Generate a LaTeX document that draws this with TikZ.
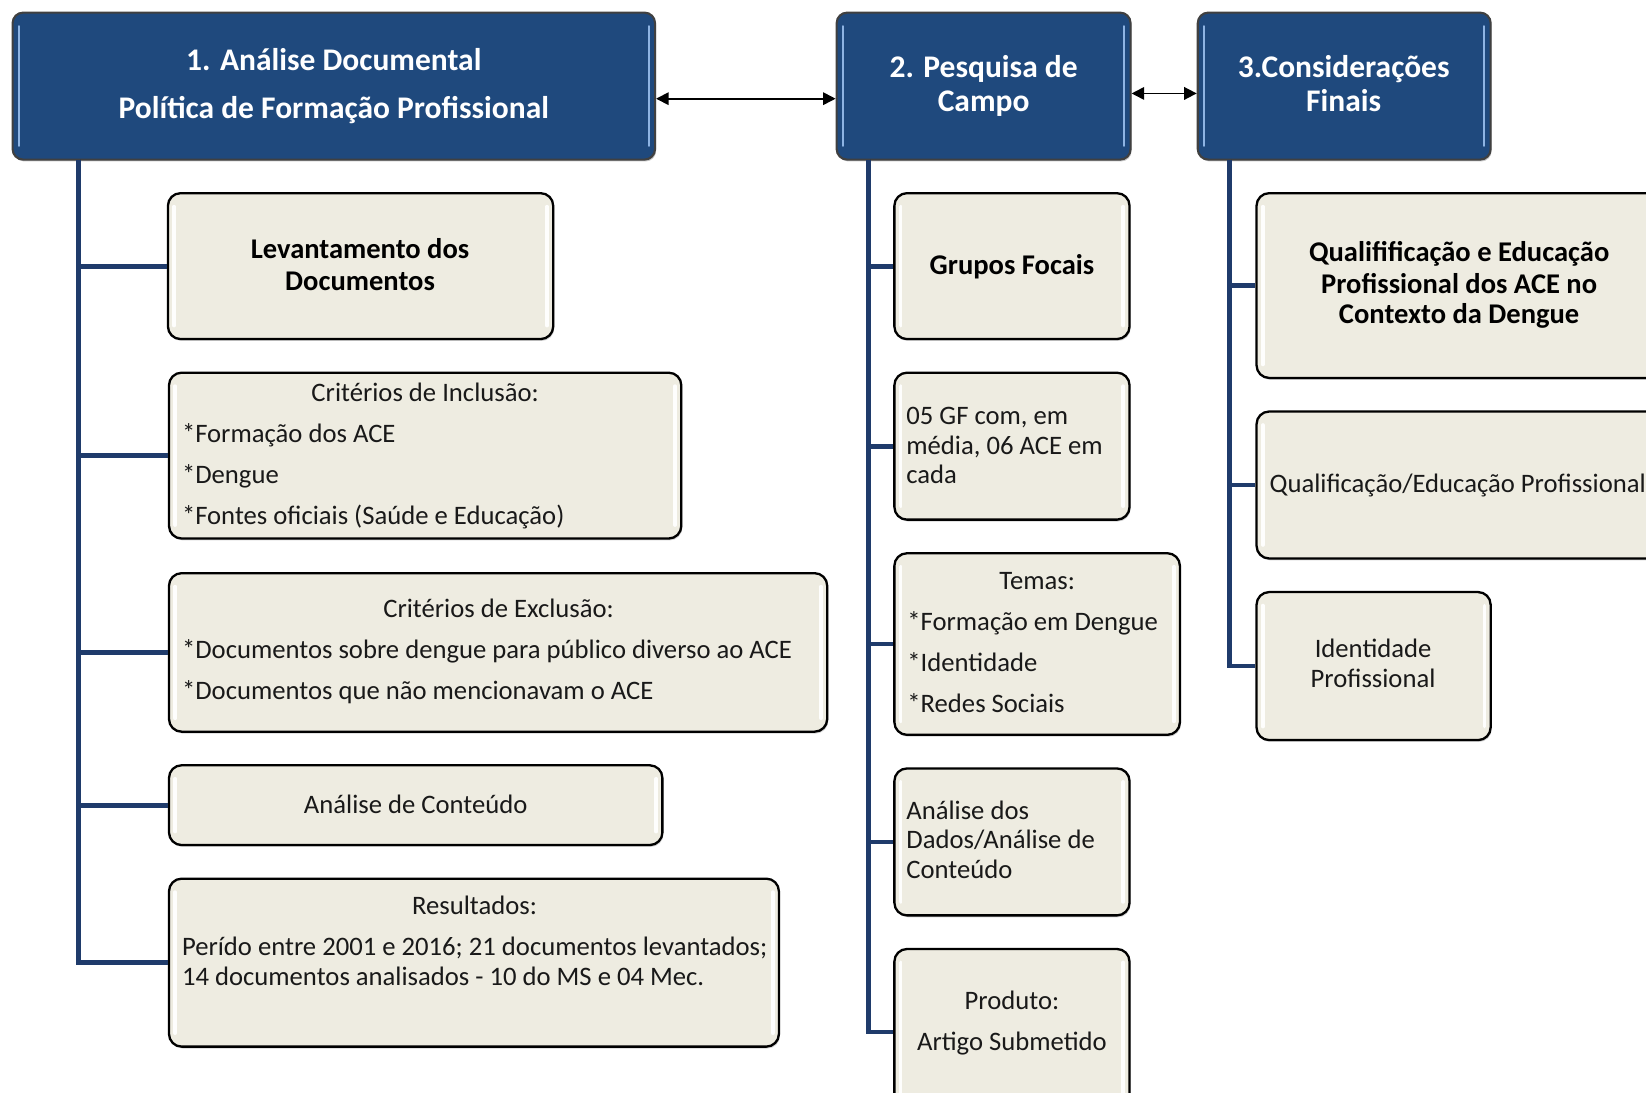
\documentclass[tikz,border=0pt]{standalone}
\usepackage{fontspec}
\setmainfont{Carlito}
\usetikzlibrary{shadows,arrows.meta}
\definecolor{hdr}{HTML}{1F497D}
\definecolor{hdrline}{HTML}{8EB4E3}
\definecolor{tanbg}{HTML}{EEECE1}
\definecolor{spinec}{HTML}{1F3B6B}
\newcommand\bx[6]{\node[#1, minimum width={(#5-#3)*0.5pt}, minimum height={(#6-#4)*0.5pt}] (#2) at ({(#3+#5)/2},{(#4+#6)/2}) {};}
\newcommand\hlx[2]{%
  \draw[#1] ([xshift=3.5pt,yshift=-7pt]#2.north west) -- ([xshift=3.5pt,yshift=7pt]#2.south west);
  \draw[#1] ([xshift=-3.5pt,yshift=-7pt]#2.north east) -- ([xshift=-3.5pt,yshift=7pt]#2.south east);}
\begin{document}
\begin{tikzpicture}[x=0.5pt,y=-0.5pt,
  hbox/.style={draw=black!75, line width=1pt, fill=hdr, rounded corners=5pt,
    drop shadow={shadow xshift=0.5pt, shadow yshift=-0.9pt, opacity=0.45}},
  tbox/.style={draw=black, line width=1.1pt, fill=tanbg, rounded corners=6pt,
    drop shadow={shadow xshift=0.5pt, shadow yshift=-0.9pt, opacity=0.35}},
  hhl/.style={draw=hdrline, line width=1pt, line cap=round},
  thl/.style={draw=white, line width=1.8pt, line cap=round, opacity=0.95},
  spine/.style={draw=spinec, line width=2.3pt},
  arr/.style={draw=black, line width=0.8pt, {Triangle[length=6pt,width=6pt]}-{Triangle[length=6pt,width=6pt]}},
  ht/.style={font=\bfseries\fontsize{15}{16}\selectfont, text=white, inner sep=0pt, anchor=base, yshift=-4.6pt},
  bt/.style={font=\bfseries\fontsize{13.6}{15}\selectfont, text=black, inner sep=0pt, anchor=base, yshift=-4.2pt},
  rt/.style={font=\fontsize{12.7}{14}\selectfont, text=black!90, inner sep=0pt, anchor=base, yshift=-3.8pt},
  rtl/.style={rt, anchor=base west},
]
\useasboundingbox (0,0) rectangle (1568,1041);

% headers
\bx{hbox}{h1}{12}{12}{624}{152}
\bx{hbox}{h2}{797}{12}{1077}{152}
\bx{hbox}{h3}{1141}{12}{1420}{152}
\hlx{hhl}{h1}\hlx{hhl}{h2}\hlx{hhl}{h3}
\node[ht] (h1a) at (318,58) {1. Análise Documental};
\node[ht] (h1b) at (318,104) {Política de Formação Profissional};
\node[ht] (h2a) at (937,65) {2. Pesquisa de};
\node[ht] (h2b) at (937,97) {Campo};
\node[ht] (h3a) at (1280,65) {3.Considerações};
\node[ht] (h3b) at (1280,97) {Finais};

\draw[arr] ([yshift=-6pt]h1.east) -- ([yshift=-6pt]h2.west);
\draw[arr] ([yshift=-3.5pt]h2.east) -- ([yshift=-3.5pt]h3.west);

% column 1 boxes
\bx{tbox}{a1}{160}{184}{527}{323}
\bx{tbox}{a2}{161}{355}{649}{513}
\bx{tbox}{a3}{161}{546}{788}{697}
\bx{tbox}{a4}{161}{729}{631}{805}
\bx{tbox}{a5}{161}{837}{742}{997}
% column 2 boxes
\bx{tbox}{b1}{852}{184}{1076}{323}
\bx{tbox}{b2}{852}{355}{1076}{495}
\bx{tbox}{b3}{852}{527}{1124}{700}
\bx{tbox}{b4}{852}{732}{1076}{872}
\bx{tbox}{b5}{852}{904}{1076}{1062}
% column 3 boxes
\bx{tbox}{c1}{1197}{184}{1610}{360}
\bx{tbox}{c2}{1197}{392}{1610}{532}
\bx{tbox}{c3}{1197}{564}{1420}{705}
\foreach \n in {a1,a2,a3,a4,a5,b1,b2,b3,b4,b5,c1,c2,c3} {\hlx{thl}{\n}}

% spines
\coordinate (s1) at (75,152);
\coordinate (s2) at (827,152);
\coordinate (s3) at (1171,152);
\foreach \n in {a1,a2,a3,a4,a5} {\draw[spine] (s1) |- (\n.west);}
\foreach \n in {b1,b2,b3,b4,b5} {\draw[spine] (s2) |- (\n.west);}
\foreach \n in {c1,c2,c3} {\draw[spine] (s3) |- (\n.west);}

% texts column 1
\node[bt] (ta1a) at (343,238) {Levantamento dos};
\node[bt] (ta1b) at (343,268) {Documentos};
\node[rt] (ta2a) at (405,375) {Critérios de Inclusão:};
\node[rtl] (ta2b) at (173,414) {*Formação dos ACE};
\node[rtl] (ta2c) at (173,453) {*Dengue};
\node[rtl] (ta2d) at (173,492) {*Fontes oficiais (Saúde e Educação)};
\node[rt] (ta3a) at (475,581) {Critérios de Exclusão:};
\node[rtl] (ta3b) at (173,620) {*Documentos sobre dengue para público diverso ao ACE};
\node[rtl] (ta3c) at (173,659) {*Documentos que não mencionavam o ACE};
\node[rt] (ta4a) at (396,767) {Análise de Conteúdo};
\node[rt] (ta5a) at (452,864) {Resultados:};
\node[rtl] (ta5b) at (173,903) {Perído entre 2001 e 2016; 21 documentos levantados;};
\node[rtl] (ta5c) at (173,931) {14 documentos analisados - 10 do MS e 04 Mec.};

% texts column 2
\node[bt] (tb1a) at (964,253) {Grupos Focais};
\node[rtl] (tb2a) at (863,397) {05 GF com, em};
\node[rtl] (tb2b) at (863,425) {média, 06 ACE em};
\node[rtl] (tb2c) at (863,453) {cada};
\node[rt] (tb3a) at (988,554) {Temas:};
\node[rtl] (tb3b) at (864,593) {*Formação em Dengue};
\node[rtl] (tb3c) at (864,632) {*Identidade};
\node[rtl] (tb3d) at (864,671) {*Redes Sociais};
\node[rtl] (tb4a) at (863,773) {Análise dos};
\node[rtl] (tb4b) at (863,801) {Dados/Análise de};
\node[rtl] (tb4c) at (863,829) {Conteúdo};
\node[rt] (tb5a) at (964,954) {Produto:};
\node[rt] (tb5b) at (964,993) {Artigo Submetido};

% texts column 3
\node[bt] (tc1a) at (1390,241) {Qualifificação e Educação};
\node[bt] (tc1b) at (1390,271) {Profissional dos ACE no};
\node[bt] (tc1c) at (1390,300) {Contexto da Dengue};
\node[rtl] (tc2a) at (1209,462) {Qualificação/Educação Profissional};
\node[rt] (tc3a) at (1308,619) {Identidade};
\node[rt] (tc3b) at (1308,647) {Profissional};
\end{tikzpicture}
\end{document}
